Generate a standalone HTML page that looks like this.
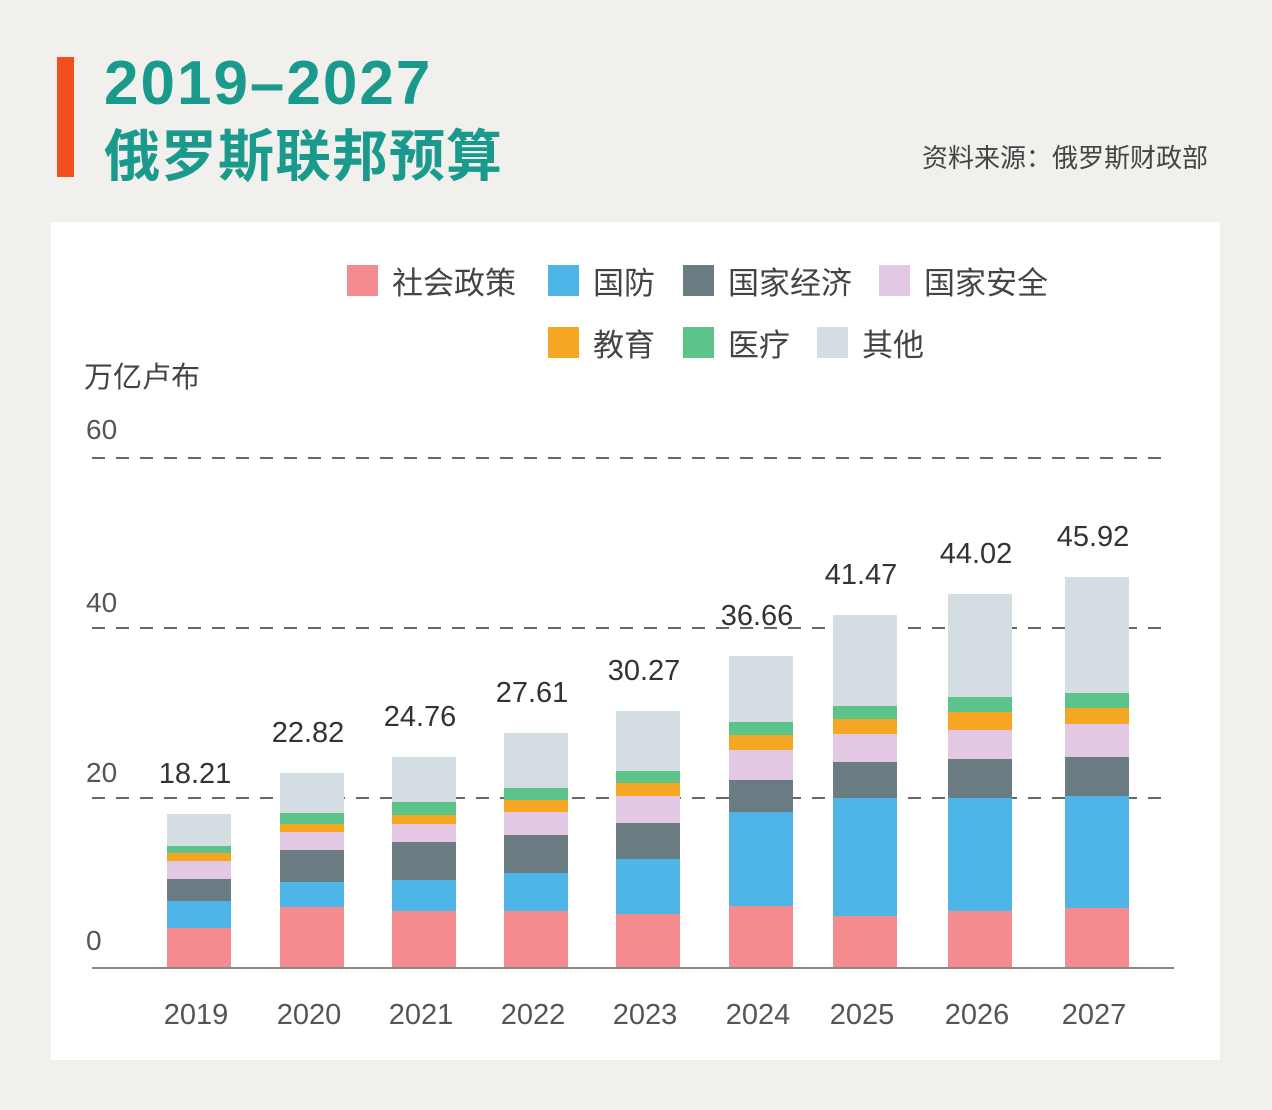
<!DOCTYPE html>
<html><head><meta charset="utf-8"><style>
body{margin:0;width:1272px;height:1110px;background:#f1f0ec;position:relative;font-family:"Liberation Sans","Noto Sans CJK SC",sans-serif;overflow:hidden}
.a{position:absolute}
.t{color:#1a9a8c;font-weight:bold}
.panel{left:51px;top:222px;width:1169px;height:838px;background:#fff}
.leg{font-size:31px;color:#444;display:flex;align-items:center}
.sw{width:31px;height:31px;margin-right:14px}
.dash{height:2px;left:92px;width:1074px;background:repeating-linear-gradient(90deg,#666 0 13px,transparent 13px 24px)}
.yl{font-size:28px;color:#555;left:86px}
.xl{font-size:29px;color:#555;width:100px;text-align:center}
.vl{font-size:29px;color:#333;width:140px;text-align:center}
</style></head><body>
<div class="a" style="left:57px;top:57px;width:17px;height:120px;background:#f04e1f"></div>
<div class="a t" style="left:104px;top:48px;font-size:62px;letter-spacing:2px">2019–2027</div>
<div class="a t" style="left:104px;top:112px;font-size:56px;letter-spacing:1px">俄罗斯联邦预算</div>
<div class="a" style="left:922px;top:138px;font-size:26px;color:#444">资料来源：俄罗斯财政部</div>
<div class="a panel"></div>
<div class="a leg" style="left:347px;top:258px"><div class="sw" style="background:#f38b8f"></div>社会政策</div>
<div class="a leg" style="left:548px;top:258px"><div class="sw" style="background:#4db6e6"></div>国防</div>
<div class="a leg" style="left:683px;top:258px"><div class="sw" style="background:#6b7b82"></div>国家经济</div>
<div class="a leg" style="left:879px;top:258px"><div class="sw" style="background:#e3c8e3"></div>国家安全</div>
<div class="a leg" style="left:548px;top:320px"><div class="sw" style="background:#f5a623"></div>教育</div>
<div class="a leg" style="left:683px;top:320px"><div class="sw" style="background:#5cc48a"></div>医疗</div>
<div class="a leg" style="left:817px;top:320px"><div class="sw" style="background:#d4dde2"></div>其他</div>
<div class="a" style="left:84px;top:354px;font-size:29px;color:#444">万亿卢布</div>
<div class="a yl" style="top:414px">60</div>
<div class="a yl" style="top:587px">40</div>
<div class="a yl" style="top:757px">20</div>
<div class="a yl" style="top:925px">0</div>
<div class="a dash" style="top:457px"></div>
<div class="a dash" style="top:627px"></div>
<div class="a dash" style="top:797px"></div>
<div id="bars"></div>
<div class="a" style="left:92px;top:967px;width:1082px;height:2px;background:#888"></div>
<script>
var cols=["#f38b8f","#4db6e6","#6b7b82","#e3c8e3","#f5a623","#5cc48a","#d4dde2"];
var d=[
[167,"2019","18.21",[928,901,879,861,853,846,814]],
[280,"2020","22.82",[907,882,850,832,824,813,773]],
[392,"2021","24.76",[911,880,842,824,815,802,757]],
[504,"2022","27.61",[911,873,835,812,800,788,733]],
[616,"2023","30.27",[914,859,823,796,783,771,711]],
[729,"2024","36.66",[906,812,780,750,735,722,656]],
[833,"2025","41.47",[916,798,762,734,719,706,615]],
[948,"2026","44.02",[911,798,759,730,712,697,594]],
[1065,"2027","45.92",[908,796,757,724,708,693,577]]];
var h="";
d.forEach(function(b){var prev=968;b[3].forEach(function(t,i){h+='<div class="a" style="left:'+b[0]+'px;top:'+t+'px;width:64px;height:'+(prev-t)+'px;background:'+cols[i]+'"></div>';prev=t;});
h+='<div class="a vl" style="left:'+(b[0]-42)+'px;top:'+(b[3][6]-56)+'px">'+b[2]+'</div>';
h+='<div class="a xl" style="left:'+(b[0]-21)+'px;top:999px">'+b[1]+'</div>';});
document.getElementById("bars").innerHTML=h;
</script>
</body></html>
